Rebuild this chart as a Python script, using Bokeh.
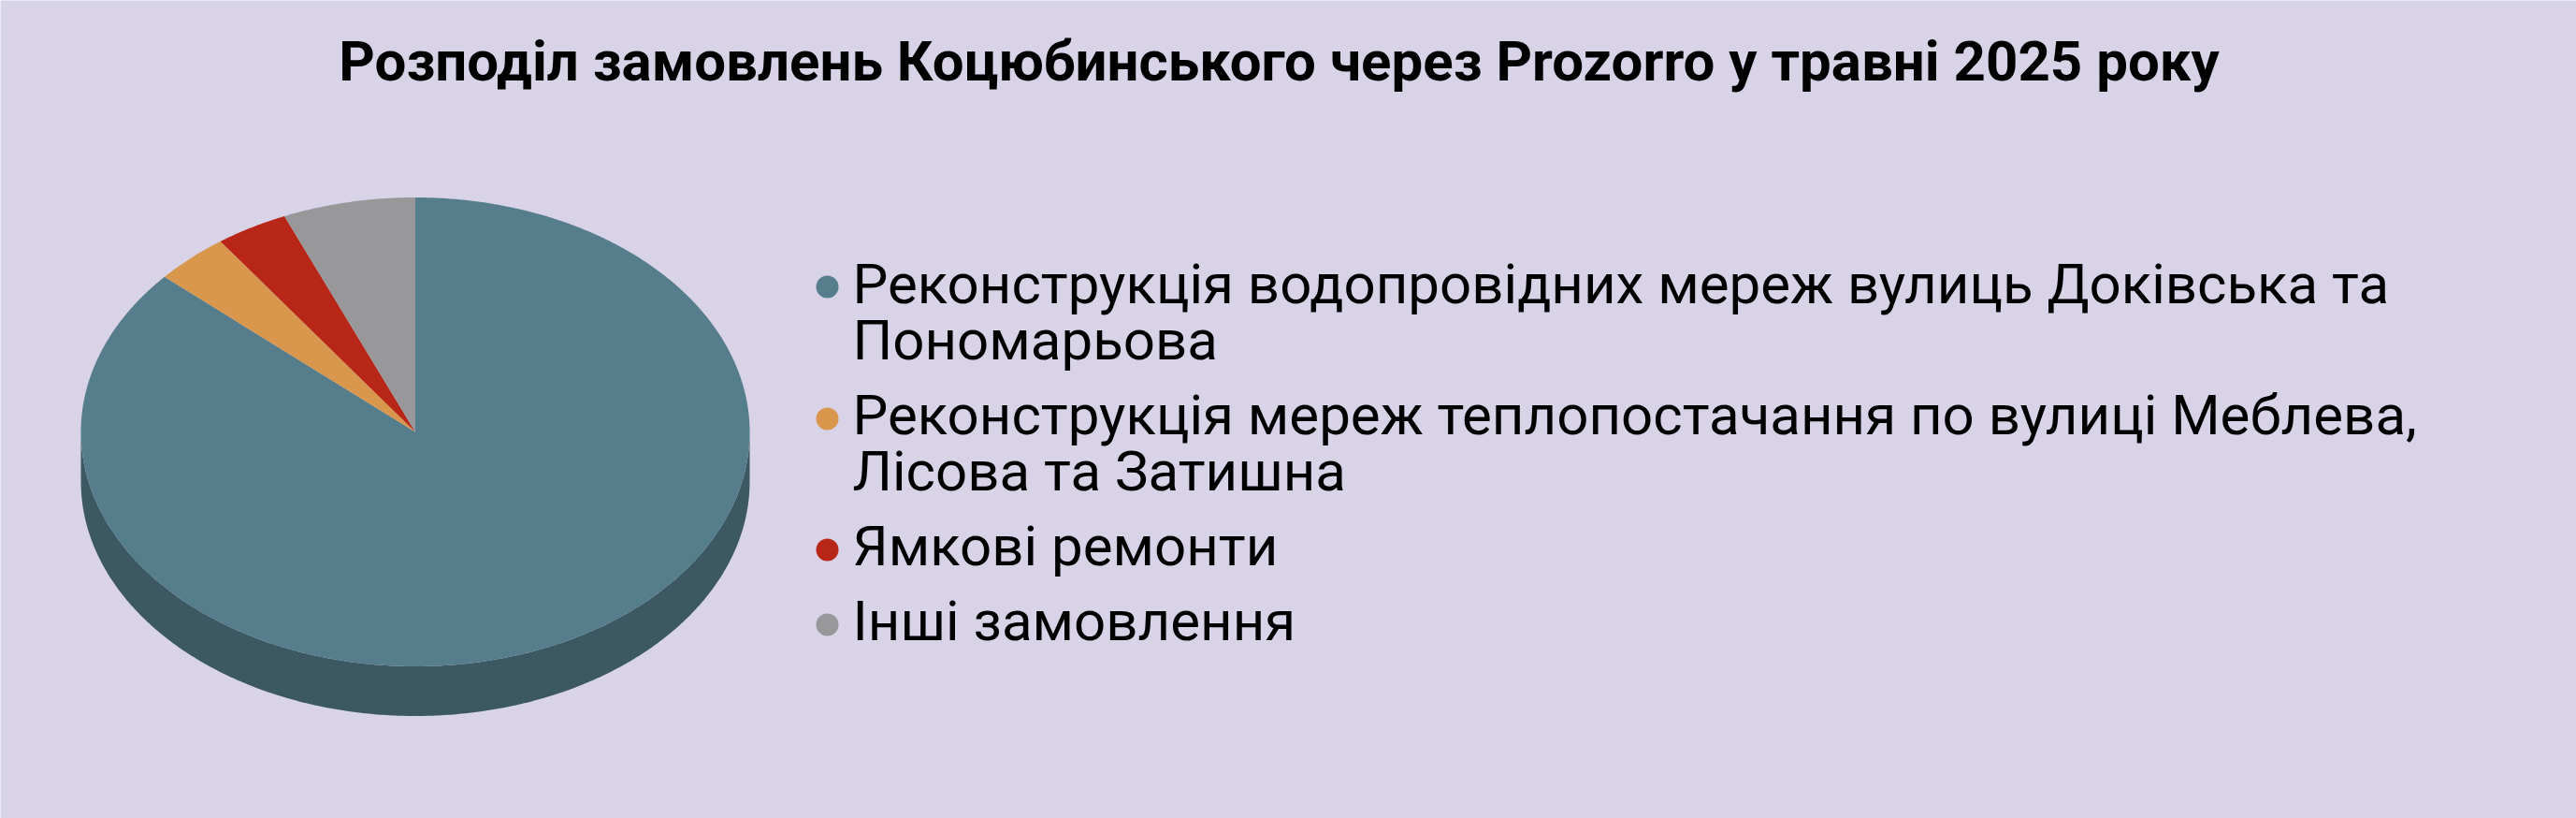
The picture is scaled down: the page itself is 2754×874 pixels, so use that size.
import numpy as np
from bokeh.core.properties import value
from bokeh.embed import file_html
from bokeh.models import Range1d
from bokeh.plotting import figure
from bokeh.resources import INLINE

TITLE = "Розподіл замовлень Коцюбинського через Prozorro у травні 2025 року"
categories = [
    "Реконструкція водопровідних мереж вулиць Доківська та\nПономарьова",
    "Реконструкція мереж теплопостачання по вулиці Меблева,\nЛісова та Затишна",
    "Ямкові ремонти",
    "Інші замовлення",
]
shares = [86.5, 3.6, 3.5, 6.4]
colors = ["#557D8B", "#D9964D", "#B82617", "#989799"]
SIDE = "#3B5863"
BG = "#D8D3E7"

W, H = 2754, 874
CX, CY, RX, RY, DEPTH = 443.5, 461, 357.5, 250.5, 53

p = figure(width=W, height=H, output_backend="svg", toolbar_location=None,
           x_range=Range1d(0, W), y_range=Range1d(H, 0), min_border=0,
           background_fill_color=BG, border_fill_color=BG, outline_line_color=None)
p.axis.visible = False
p.grid.visible = False
p.styles = {"position": "fixed", "left": "0", "top": "0"}

# side of the extruded pie
t = np.linspace(0, np.pi, 361)
sx = CX + RX * np.cos(t)
sy = CY + RY * np.sin(t)
p.patch(np.r_[sx, sx[::-1]], np.r_[sy + DEPTH, sy[::-1]], fill_color=SIDE, line_color=None)

# top of the pie: clockwise from twelve o'clock
edges = np.cumsum([0] + shares) / sum(shares) * 2 * np.pi
xs, ys = [], []
for a, b in zip(edges[:-1], edges[1:]):
    ang = np.linspace(a, b, max(3, int((b - a) * 180)))
    xs.append(np.r_[CX, CX + RX * np.sin(ang)])
    ys.append(np.r_[CY, CY - RY * np.cos(ang)])
p.patches(xs, ys, fill_color=colors, line_color=None)

# title
p.text([1367], [86], text=[TITLE], text_font=value("Roboto"), text_font_style="bold",
       text_font_size="60px", text_align="center", text_baseline="alphabetic",
       y_offset=-21, text_color="#000000")

# legend
marker_y = [306, 447, 587, 667]
line_y = [[326, 386], [466, 526], [606], [686]]
p.scatter([884] * 4, marker_y, size=24, marker="circle", fill_color=colors, line_color=None)
tx, ty, tt = [], [], []
for label, rows in zip(categories, line_y):
    for line, y in zip(label.split("\n"), rows):
        tx.append(911)
        ty.append(y)
        tt.append(line)
p.text(tx, ty, text=tt, text_font=value("Roboto"), text_font_size="60px",
       text_align="left", text_baseline="alphabetic", y_offset=-23, text_color="#000000")

open("out.html", "w").write(file_html(p, INLINE))
